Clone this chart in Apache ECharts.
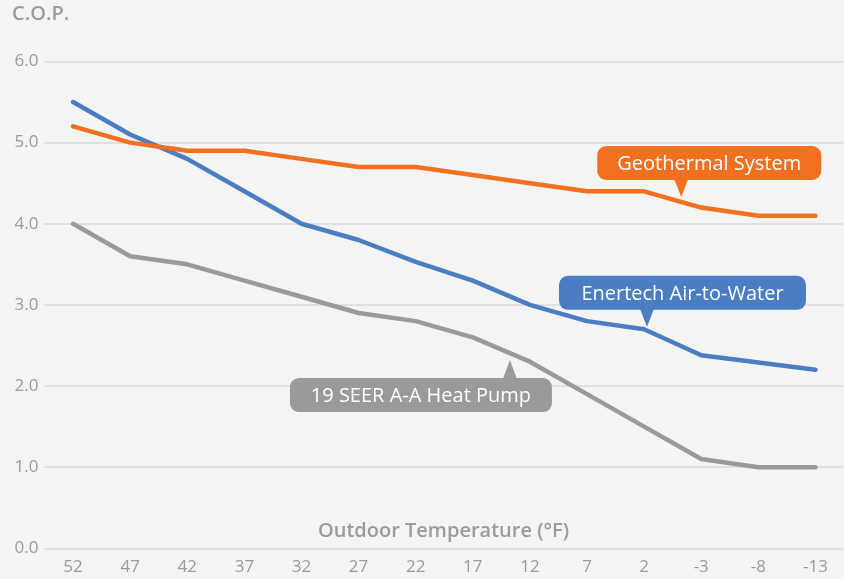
<!DOCTYPE html>
<html><head><meta charset="utf-8">
<script src="https://cdn.jsdelivr.net/npm/echarts@6/dist/echarts.min.js"></script>
<style>html,body{margin:0;padding:0;background:#f4f4f3;}#c{width:844px;height:579px;}</style>
</head><body><div id="c"></div>
<script>
// ---- data ----
const categories = ['52','47','42','37','32','27','22','17','12','7','2','-3','-8','-13'];
const geothermal = [5.2,5.0,4.9,4.9,4.8,4.7,4.7,4.6,4.5,4.4,4.4,4.2,4.1,4.1];
const enertech   = [5.5,5.1,4.8,4.4,4.0,3.8,3.53,3.3,3.0,2.8,2.7,2.38,2.29,2.2];
const seer       = [4.0,3.6,3.5,3.3,3.1,2.9,2.8,2.6,2.3,1.9,1.5,1.1,1.0,1.0];
const seriesNames = ['Geothermal System','Enertech Air-to-Water','19 SEER A-A Heat Pump'];
const yAxisTitle = 'C.O.P.';
const xAxisTitle = 'Outdoor Temperature (°F)';
// callout pointer anchors in data units [category index, value]
const calloutAnchors = [[10.65,4.33],[10.05,2.73],[7.65,2.32]];

// ---- styling ----
const colors = ['#f37021','#4a7dc1','#9a9a9a'];
const labelGrey = '#9b9b9b';
const FONT = '"Open Sans", Lato, sans-serif';
const calloutLayout = [
  {dx:-84, dy:-51, w:224, h:34, up:false},
  {dx:-88, dy:-51, w:247, h:34, up:false},
  {dx:-220, dy:18, w:262, h:34, up:true}
];

const chart = echarts.init(document.getElementById('c'), null, {renderer:'canvas'});

function lineSeries(name, data, color){
  return {
    name, type:'line', data, symbol:'none', smooth:false,
    xAxisIndex:0, yAxisIndex:0,
    lineStyle:{color, width:4.5, cap:'round', join:'round'},
    z:3
  };
}

const callouts = {
  type:'custom', xAxisIndex:1, yAxisIndex:0, silent:true, clip:false, z:10,
  data: calloutAnchors,
  renderItem(params, api){
    const i = params.dataIndex;
    const p = api.coord([api.value(0), api.value(1)]);
    const L = calloutLayout[i];
    const bx = p[0] + L.dx, by = p[1] + L.dy;
    const tw = 7;
    const tri = L.up
      ? [[p[0]-tw, by+1],[p[0]+tw, by+1],[p[0], p[1]]]
      : [[p[0]-tw, by+L.h-1],[p[0]+tw, by+L.h-1],[p[0], p[1]]];
    return {
      type:'group',
      children:[
        {type:'rect', shape:{x:bx, y:by, width:L.w, height:L.h, r:9}, style:{fill:colors[i]}},
        {type:'polygon', shape:{points:tri}, style:{fill:colors[i]}},
        {type:'text', style:{text:seriesNames[i], x:bx+L.w/2, y:by+L.h/2+1, align:'center', verticalAlign:'middle',
          fill:'#ffffff', font:'20px ' + FONT}}
      ]
    };
  }
};

chart.setOption({
  backgroundColor:'#f4f4f3',
  animation:false,
  grid:{left:44.5, right:0, top:61.5, bottom:30.7, containLabel:false},
  xAxis:[{
    type:'category', data:categories, boundaryGap:true,
    axisLine:{show:false}, axisTick:{show:false},
    axisLabel:{color:labelGrey, fontSize:17, fontFamily:FONT, margin:10}
  },{
    type:'value', min:-0.5, max:13.5, show:false
  }],
  yAxis:{
    type:'value', min:0, max:6, interval:1,
    axisLine:{show:false}, axisTick:{show:false},
    axisLabel:{color:labelGrey, fontSize:17, fontFamily:FONT, margin:6, formatter:v=>v.toFixed(1)},
    splitLine:{lineStyle:{color:'#d9d9d9', width:1.5}}
  },
  graphic:[
    {type:'text', left:12, top:4, style:{text:yAxisTitle, fill:labelGrey, font:'600 20px ' + FONT}},
    {type:'text', left:318, top:521, style:{text:xAxisTitle, fill:labelGrey, font:'600 20px ' + FONT}}
  ],
  series:[
    lineSeries(seriesNames[2], seer, colors[2]),
    lineSeries(seriesNames[1], enertech, colors[1]),
    lineSeries(seriesNames[0], geothermal, colors[0]),
    callouts
  ]
});
</script></body></html>
